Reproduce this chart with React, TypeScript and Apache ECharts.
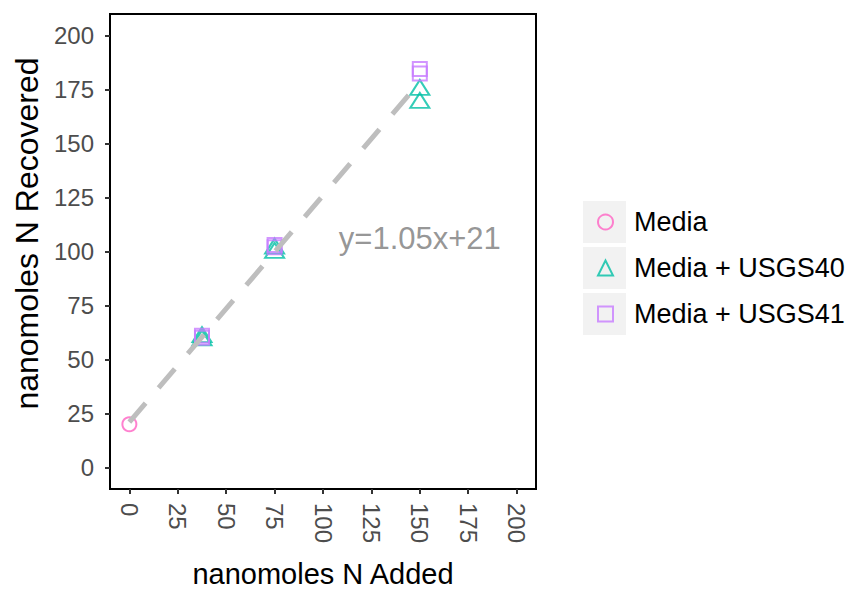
import React, { useEffect, useRef } from "react";
import * as echarts from "echarts";

const xTicks = [0, 25, 50, 75, 100, 125, 150, 175, 200];
const yTicks = [0, 25, 50, 75, 100, 125, 150, 175, 200];
const seriesNames = ["Media", "Media + USGS40", "Media + USGS41"];
const seriesColors = ["#FF61C3", "#00BFA5", "#C77CFF"];
const mediaPoints = [[0, 20]];
const usgs40Points = [
  [37.5, 60], [37.5, 61.5],
  [75, 100.5], [75, 102.5],
  [150, 170], [150, 176],
];
const usgs41Points = [
  [37.5, 60], [37.5, 61],
  [75, 102], [75, 103],
  [150, 182.5], [150, 184.5],
];
const fitLine = [[0, 21], [150, 178.5]];
const fitLabel = "y=1.05x+21";
const fitLabelPos = [[150, 106]];

const FONT = "'Liberation Sans', Arial, Helvetica, sans-serif";

export default function App() {
  const ref = useRef<HTMLDivElement>(null);
  useEffect(() => {
    if (!ref.current) return;
    const chart = echarts.init(ref.current, null, { renderer: "svg" });
    const pointStyle = (c: string) => ({ color: "transparent", borderColor: c, borderWidth: 2 });
    chart.setOption({
      animation: false,
      backgroundColor: "#ffffff",
      textStyle: { fontFamily: FONT },
      grid: {
        left: 110, right: 310, top: 14, bottom: 103,
        show: true, borderColor: "#000", borderWidth: 2, backgroundColor: "#fff",
      },
      xAxis: {
        type: "value", min: -10, max: 210,
        name: "nanomoles N Added", nameLocation: "middle", nameGap: 70,
        nameTextStyle: { fontSize: 29, color: "#000", fontFamily: FONT },
        axisLine: { show: false, onZero: false },
        axisTick: { show: true, customValues: xTicks, length: 5, lineStyle: { color: "#333", width: 2 } },
        axisLabel: { customValues: xTicks, rotate: -90, margin: 14, fontSize: 24, color: "#4d4d4d", fontFamily: FONT },
        splitLine: { show: false },
      },
      yAxis: {
        type: "value", min: -10, max: 210,
        name: "nanomoles N Recovered", nameLocation: "middle", nameGap: 62,
        nameTextStyle: { fontSize: 32, color: "#000", fontFamily: FONT, padding: [0, 0, 0, 36] },
        axisLine: { show: false, onZero: false },
        axisTick: { show: true, customValues: yTicks, length: 5, lineStyle: { color: "#333", width: 2 } },
        axisLabel: { customValues: yTicks, margin: 16, fontSize: 24, color: "#4d4d4d", fontFamily: FONT },
        splitLine: { show: false },
      },
      legend: {
        data: seriesNames,
        orient: "vertical", left: 597, top: 201, padding: 0,
        itemWidth: 15, itemHeight: 15, itemGap: 4,
        textStyle: { fontSize: 27, color: "#000", lineHeight: 42, padding: [0, 0, 0, 16], fontFamily: FONT },
      },
      graphic: seriesNames.map((_, i) => ({
        type: "rect", z: 0, silent: true,
        shape: { x: 583, y: 201 + 46 * i, width: 43, height: 42 },
        style: { fill: "#F2F2F2" },
      })),
      series: [
        {
          name: seriesNames[0], type: "scatter", data: mediaPoints,
          symbol: "circle", symbolSize: 14, itemStyle: pointStyle(seriesColors[0]), z: 2,
        },
        {
          name: seriesNames[1], type: "scatter", data: usgs40Points,
          symbol: "triangle", symbolSize: [19, 15], itemStyle: pointStyle(seriesColors[1]), z: 2,
        },
        {
          name: seriesNames[2], type: "scatter", data: usgs41Points,
          symbol: "rect", symbolSize: 14, itemStyle: pointStyle(seriesColors[2]), z: 2,
        },
        {
          name: "fit", type: "line", data: fitLine, symbol: "none", z: 3, silent: true,
          lineStyle: { color: "#BEBEBE", width: 5, type: [25, 20], cap: "butt" },
        },
        {
          name: "fitLabel", type: "scatter", data: fitLabelPos, symbolSize: 1, silent: true, z: 4,
          itemStyle: { color: "transparent" },
          label: { show: true, position: "inside", formatter: fitLabel, fontSize: 31, color: "#7a7a7a", fontFamily: FONT },
        },
      ],
    });
    return () => chart.dispose();
  }, []);
  return (
    <div
      ref={ref}
      style={{ position: "fixed", left: 0, top: 0, width: 846, height: 593, background: "#fff" }}
    />
  );
}
